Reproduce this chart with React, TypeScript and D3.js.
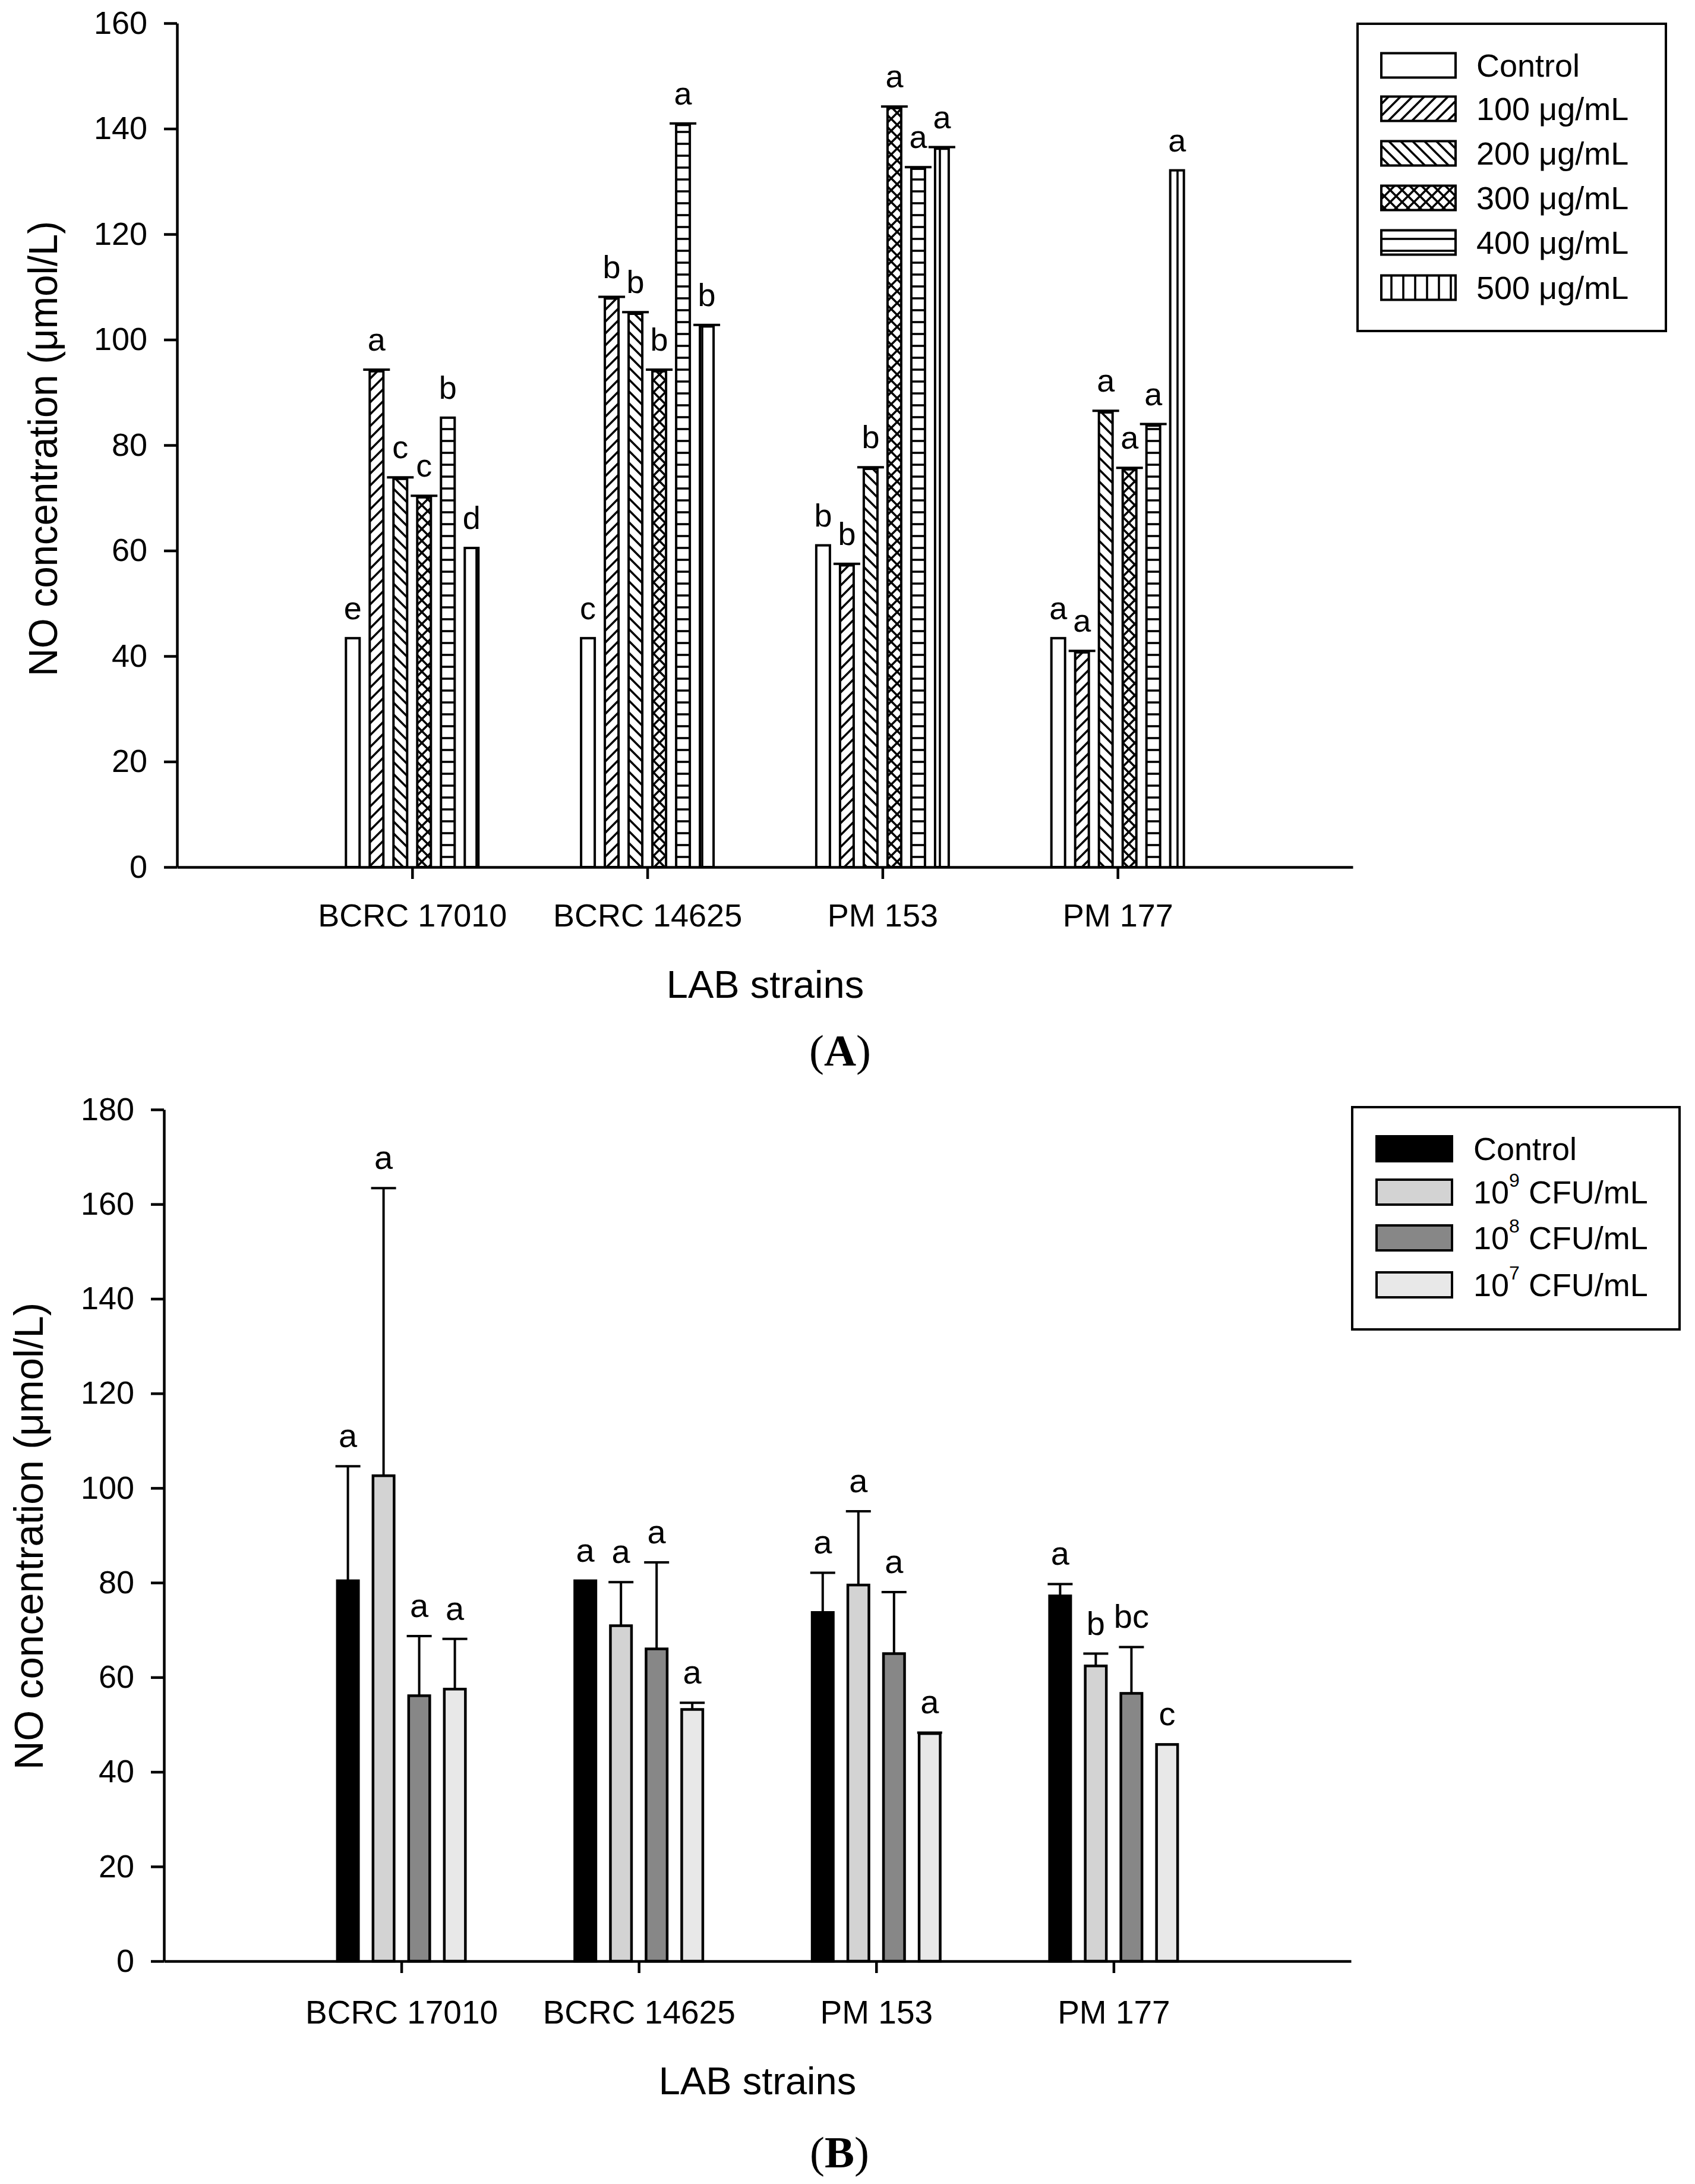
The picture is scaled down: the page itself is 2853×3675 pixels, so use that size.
import { useEffect, useRef } from 'react';
import * as d3 from 'd3';

// ---- data ----
const strains = ['BCRC 17010', 'BCRC 14625', 'PM 153', 'PM 177'];

// panel A: extract doses
const seriesA = ['Control', '100 μg/mL', '200 μg/mL', '300 μg/mL', '400 μg/mL', '500 μg/mL'];
const controlA = [43.4, 43.4, 61.0, 43.4];
const dose100 = [94.0, 107.8, 57.2, 40.7];
const dose200 = [73.6, 104.9, 75.5, 86.2];
const dose300 = [70.1, 94.0, 143.9, 75.4];
const dose400 = [85.2, 140.7, 132.4, 83.7];
const dose500 = [60.5, 102.5, 136.2, 132.1];
const errA = [
  [null, null, null, null],
  [0.3, 0.3, 0.3, 0.3],
  [0.3, 0.3, 0.3, 0.3],
  [0.3, 0.3, 0.3, 0.3],
  [null, 0.3, 0.3, 0.3],
  [null, 0.3, 0.3, null],
];
const lettersA = [
  ['e', 'c', 'b', 'a'],
  ['a', 'b', 'b', 'a'],
  ['c', 'b', 'b', 'a'],
  ['c', 'b', 'a', 'a'],
  ['b', 'a', 'a', 'a'],
  ['d', 'b', 'a', 'a'],
];
const yTicksA = [0, 20, 40, 60, 80, 100, 120, 140, 160];

// panel B: cell concentrations
const seriesB = ['Control', '10^9 CFU/mL', '10^8 CFU/mL', '10^7 CFU/mL'];
const controlB = [80.4, 80.4, 73.7, 77.2];
const cfu9 = [102.6, 70.9, 79.5, 62.4];
const cfu8 = [56.1, 66.0, 65.0, 56.6];
const cfu7 = [57.5, 53.2, 48.1, 45.8];
const errB = [
  [24.2, null, 8.4, 2.5],
  [60.8, 9.2, 15.6, 2.6],
  [12.6, 18.3, 13.0, 9.8],
  [10.6, 1.4, 0.2, null],
];
const lettersB = [
  ['a', 'a', 'a', 'a'],
  ['a', 'a', 'a', 'b'],
  ['a', 'a', 'a', 'bc'],
  ['a', 'a', 'a', 'c'],
];
const yTicksB = [0, 20, 40, 60, 80, 100, 120, 140, 160, 180];

const fillsA = ['#ffffff', 'url(#p100)', 'url(#p200)', 'url(#p300)', 'url(#p400)', 'url(#p500)'];
const fillsB = ['#000000', '#d3d3d3', '#878787', '#e8e8e8'];

const SANS = '"Liberation Sans", Arial, Helvetica, sans-serif';
const SERIF = '"Liberation Serif", "Times New Roman", serif';

function drawPanel(svg: any, o: any) {
  const g = svg.append('g');
  const x = d3.scaleLinear().domain([0, strains.length + 1]).range([o.left, o.right]);
  const y = d3.scaleLinear().domain([0, o.yMax]).range([o.bottom, o.top]);
  const n = o.series.length;
  const span = o.barStep * (n - 1) + o.barWidth;
  const inner = d3.scaleBand()
    .domain(o.series)
    .range([-span / 2, span / 2])
    .paddingInner((o.barStep - o.barWidth) / o.barStep);
  const bw = inner.bandwidth();
  const sw = o.barStroke;

  o.series.forEach((s: string, si: number) => {
    const vals: number[] = o.values[si];
    vals.forEach((v, i) => {
      const x0 = x(i + 1) + inner(s)!;
      g.append('rect')
        .attr('x', x0 + sw / 2)
        .attr('y', y(v))
        .attr('width', bw - sw)
        .attr('height', y(0) - y(v))
        .attr('fill', o.fills[si])
        .attr('stroke', '#000')
        .attr('stroke-width', sw);
      const e = o.errors[si][i];
      const cx = x0 + bw / 2;
      if (e != null) {
        g.append('line')
          .attr('x1', cx).attr('x2', cx)
          .attr('y1', y(v)).attr('y2', y(v + e))
          .attr('stroke', '#000').attr('stroke-width', 4);
        g.append('line')
          .attr('x1', cx - o.capW / 2).attr('x2', cx + o.capW / 2)
          .attr('y1', y(v + e)).attr('y2', y(v + e))
          .attr('stroke', '#000').attr('stroke-width', 4);
      }
      g.append('text')
        .attr('x', cx)
        .attr('y', y(v + (e ?? 0)) - o.letterGap)
        .attr('text-anchor', 'middle')
        .attr('font-family', SANS)
        .attr('font-size', o.letterSize)
        .text(o.letters[si][i]);
    });
  });

  const yAxis = g.append('g')
    .attr('transform', `translate(${o.left},0)`)
    .call(d3.axisLeft(y).tickValues(o.yTicks).tickSize(22).tickSizeOuter(0).tickPadding(28));
  yAxis.select('.domain').attr('stroke-width', 4.5);
  yAxis.selectAll('.tick line').attr('stroke-width', 4.5);
  yAxis.selectAll('text').attr('font-family', SANS).attr('font-size', 54).attr('fill', '#000');

  const xAxis = g.append('g')
    .attr('transform', `translate(0,${o.bottom})`)
    .call(d3.axisBottom(x).tickValues([1, 2, 3, 4]).tickFormat((d: any) => strains[d - 1])
      .tickSize(20).tickSizeOuter(0).tickPadding(o.xPad));
  xAxis.select('.domain').attr('stroke-width', 4.5);
  xAxis.selectAll('.tick line').attr('stroke-width', 4.5);
  xAxis.selectAll('text').attr('font-family', SANS).attr('font-size', o.catSize).attr('fill', '#000');

  g.append('text')
    .attr('transform', `translate(${o.yTitle[0]},${o.yTitle[1]}) rotate(-90)`)
    .attr('text-anchor', 'middle')
    .attr('dominant-baseline', 'central')
    .attr('font-family', SANS)
    .attr('font-size', 68)
    .attr('textLength', o.yTitleLen)
    .attr('lengthAdjust', 'spacingAndGlyphs')
    .text('NO concentration (μmol/L)');

  g.append('text')
    .attr('x', o.xTitle[0])
    .attr('y', o.xTitle[1])
    .attr('text-anchor', 'middle')
    .attr('font-family', SANS)
    .attr('font-size', 65)
    .text('LAB strains');

  const tag = g.append('text')
    .attr('x', o.tag[0])
    .attr('y', o.tag[1])
    .attr('text-anchor', 'middle')
    .attr('font-family', SERIF)
    .attr('font-size', 75);
  tag.append('tspan').text('(');
  tag.append('tspan').attr('font-weight', 'bold').text(o.tagText);
  tag.append('tspan').text(')');

  // legend
  const L = o.legend;
  g.append('rect')
    .attr('x', L.x0).attr('y', L.y0)
    .attr('width', L.x1 - L.x0).attr('height', L.y1 - L.y0)
    .attr('fill', '#fff').attr('stroke', '#000').attr('stroke-width', 4);
  o.series.forEach((s: string, si: number) => {
    const cy = L.rows[si];
    g.append('rect')
      .attr('x', L.sx0 + 2).attr('y', cy - L.sh / 2)
      .attr('width', L.sx1 - L.sx0 - 4).attr('height', L.sh)
      .attr('fill', o.fills[si]).attr('stroke', '#000').attr('stroke-width', 4);
    const t = g.append('text')
      .attr('x', L.tx).attr('y', cy + 19)
      .attr('font-family', SANS).attr('font-size', 54);
    const m = s.match(/^10\^(\d) (.*)$/);
    if (m) {
      t.append('tspan').text('10');
      t.append('tspan').attr('font-size', 32).attr('dy', -28).text(m[1]);
      t.append('tspan').attr('dy', 28).text(' ' + m[2]);
    } else {
      t.text(s);
    }
  });
}

export default function App() {
  const ref = useRef<SVGSVGElement>(null);

  useEffect(() => {
    document.body.style.margin = '0';
    if (!ref.current) return;
    const svg = d3.select(ref.current);
    svg.selectAll('*').remove();
    svg.append('rect').attr('width', 2853).attr('height', 3675).attr('fill', '#fff');

    const defs = svg.append('defs');
    const pat = (id: string, d: string) => {
      const p = defs.append('pattern')
        .attr('id', id).attr('patternUnits', 'userSpaceOnUse')
        .attr('width', 20).attr('height', 20);
      p.append('rect').attr('width', 20).attr('height', 20).attr('fill', '#fff');
      p.append('path').attr('d', d).attr('stroke', '#000').attr('stroke-width', 3.6).attr('fill', 'none');
    };
    pat('p100', 'M-5,5 L5,-5 M0,20 L20,0 M15,25 L25,15');
    pat('p200', 'M-5,15 L5,25 M0,0 L20,20 M15,-5 L25,5');
    pat('p300', 'M-5,5 L5,-5 M0,20 L20,0 M15,25 L25,15 M-5,15 L5,25 M0,0 L20,20 M15,-5 L25,5');
    pat('p400', 'M0,2 H20');
    pat('p500', 'M2,0 V20');

    drawPanel(svg, {
      left: 298, right: 2277, top: 39, bottom: 1459, yMax: 160, yTicks: yTicksA,
      series: seriesA,
      values: [controlA, dose100, dose200, dose300, dose400, dose500],
      errors: errA, letters: lettersA, fills: fillsA,
      barWidth: 27, barStep: 40, barStroke: 4, capW: 45,
      letterGap: 32, letterSize: 54, catSize: 54, xPad: 42,
      yTitle: [72, 755], yTitleLen: 766,
      xTitle: [1288, 1679], tag: [1414, 1793], tagText: 'A',
      legend: {
        x0: 2285, x1: 2804, y0: 40, y1: 557,
        sx0: 2323, sx1: 2452, sh: 41, tx: 2485,
        rows: [110, 183, 258, 333, 408, 484],
      },
    });

    drawPanel(svg, {
      left: 276, right: 2274, top: 1867, bottom: 3300, yMax: 180, yTicks: yTicksB,
      series: seriesB,
      values: [controlB, cfu9, cfu8, cfu7],
      errors: errB, letters: lettersB, fills: fillsB,
      barWidth: 40, barStep: 60, barStroke: 4.5, capW: 42,
      letterGap: 32, letterSize: 56, catSize: 55, xPad: 46,
      yTitle: [48, 2585], yTitleLen: 786,
      xTitle: [1275, 3524], tag: [1413, 3647], tagText: 'B',
      legend: {
        x0: 2276, x1: 2827, y0: 1863, y1: 2237,
        sx0: 2315, sx1: 2446, sh: 42, tx: 2480,
        rows: [1933, 2006, 2083, 2162],
      },
    });
  }, []);

  return <svg ref={ref} width={2853} height={3675} style={{ display: 'block' }} />;
}
